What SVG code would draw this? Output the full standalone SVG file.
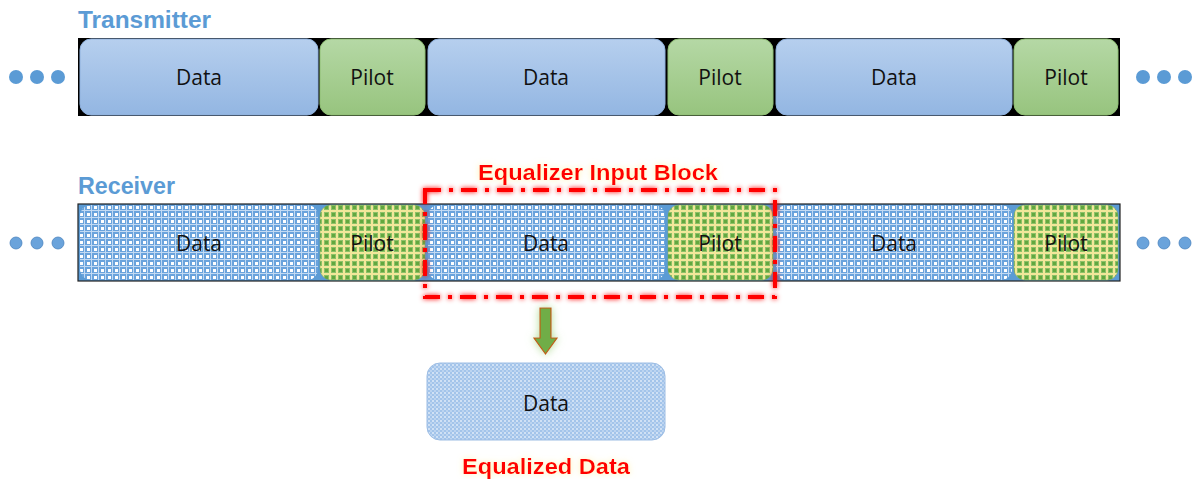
<svg xmlns="http://www.w3.org/2000/svg" width="1193" height="479" viewBox="0 0 1193 479">
<style>
.title{font-family:"Liberation Sans",Arial,sans-serif;font-weight:bold;font-size:23px;fill:#5b9bd5}
.lbl{font-family:"Open Sans","Liberation Sans",sans-serif;font-size:21px;fill:#111;text-anchor:middle;dominant-baseline:central}
.red{font-family:"Liberation Sans",Arial,sans-serif;font-weight:bold;font-size:22px;fill:#ff0000;text-anchor:middle}
.tdata{fill:url(#gData);stroke:#8fb1dd;stroke-width:1}
.tpilot{fill:url(#gPilot);stroke:#8fbf74;stroke-width:1}
.rdata{fill:url(#pData)}
.rpilot{fill:url(#pPilot);stroke:#7aa95a;stroke-width:0.5}
.dot{fill:#5b9bd5}
.rdot{fill:#6aa3db;stroke:#4a84bf;stroke-width:0.8}
</style>
<defs>
<linearGradient id="gData" x1="0" y1="0" x2="0" y2="1"><stop offset="0" stop-color="#b6cfee"/><stop offset="1" stop-color="#93b6e2"/></linearGradient>
<linearGradient id="gPilot" x1="0" y1="0" x2="0" y2="1"><stop offset="0" stop-color="#b5d8a5"/><stop offset="1" stop-color="#97c47e"/></linearGradient>
<pattern id="pData" width="7" height="7" patternUnits="userSpaceOnUse">
<rect width="7" height="7" fill="#6aa3dc"/>
<rect x="0" y="0" width="7" height="1" fill="#c2daf3"/>
<rect x="0" y="0" width="1" height="7" fill="#c2daf3"/>
<rect x="3" y="3" width="3" height="3" fill="#ffffff"/>
</pattern>
<pattern id="pPilot" width="7" height="7" patternUnits="userSpaceOnUse">
<rect width="7" height="7" fill="#8cc068"/>
<rect x="0" y="0" width="7" height="2" fill="#f2e79a"/>
<rect x="0" y="0" width="2" height="7" fill="#f2e79a"/>
<rect x="3" y="3" width="3" height="3" fill="#62a83e"/>
</pattern>
<pattern id="pEq" width="4" height="4" patternUnits="userSpaceOnUse">
<rect width="4" height="4" fill="#a3c4ea"/>
<rect x="0" y="0" width="2" height="2" fill="#d0e1f5"/>
<rect x="2" y="2" width="2" height="2" fill="#bcd4f0"/>
</pattern>
<filter id="glowY" x="-10%" y="-40%" width="120%" height="180%">
<feGaussianBlur in="SourceAlpha" stdDeviation="3" result="b"/>
<feFlood flood-color="#ffef9e" flood-opacity="0.8"/>
<feComposite operator="in" in2="b"/>
<feMerge><feMergeNode/><feMergeNode in="SourceGraphic"/></feMerge>
</filter>
<filter id="glowR" x="-5%" y="-10%" width="110%" height="120%">
<feGaussianBlur in="SourceGraphic" stdDeviation="2.5" result="b"/>
<feMerge><feMergeNode in="b"/><feMergeNode in="SourceGraphic"/></feMerge>
</filter>
<filter id="glowG" x="-80%" y="-30%" width="260%" height="160%">
<feGaussianBlur in="SourceAlpha" stdDeviation="4" result="b"/>
<feFlood flood-color="#a9d98c" flood-opacity="0.9"/>
<feComposite operator="in" in2="b"/>
<feMerge><feMergeNode/><feMergeNode in="SourceGraphic"/></feMerge>
</filter>
</defs>
<rect width="1193" height="479" fill="#ffffff"/>

<g id="transmitter">
<text class="title" x="78" y="28" textLength="133" lengthAdjust="spacingAndGlyphs">Transmitter</text>
<rect x="78" y="38" width="1042" height="78" fill="#000"/>
<g id="t-data1"><rect class="tdata" x="80" y="39" width="238" height="76" rx="11"/><text class="lbl" x="199" y="77">Data</text></g>
<g id="t-pilot1"><rect class="tpilot" x="320" y="39" width="105" height="76" rx="11"/><text class="lbl" x="372" y="77">Pilot</text></g>
<g id="t-data2"><rect class="tdata" x="428" y="39" width="237" height="76" rx="11"/><text class="lbl" x="546" y="77">Data</text></g>
<g id="t-pilot2"><rect class="tpilot" x="668" y="39" width="105" height="76" rx="11"/><text class="lbl" x="720" y="77">Pilot</text></g>
<g id="t-data3"><rect class="tdata" x="776" y="39" width="236" height="76" rx="11"/><text class="lbl" x="894" y="77">Data</text></g>
<g id="t-pilot3"><rect class="tpilot" x="1014" y="39" width="104" height="76" rx="11"/><text class="lbl" x="1066" y="77">Pilot</text></g>
<g id="t-dots-l"><circle class="dot" cx="16" cy="77" r="7"/><circle class="dot" cx="37" cy="77" r="7"/><circle class="dot" cx="58" cy="77" r="7"/></g>
<g id="t-dots-r"><circle class="dot" cx="1143" cy="77" r="7"/><circle class="dot" cx="1164" cy="77" r="7"/><circle class="dot" cx="1185" cy="77" r="7"/></g>
</g>

<g id="receiver">
<text class="title" x="78" y="194" textLength="97" lengthAdjust="spacingAndGlyphs">Receiver</text>
<rect x="78" y="204" width="1042" height="77" fill="#5b9bd5" stroke="#222" stroke-width="1.2"/>
<g id="r-data1"><rect class="rdata" x="80" y="205" width="238" height="75" rx="11"/><text class="lbl" x="199" y="243">Data</text></g>
<g id="r-pilot1"><rect class="rpilot" x="320" y="205" width="105" height="75" rx="11"/><text class="lbl" x="372" y="243">Pilot</text></g>
<g id="r-data2"><rect class="rdata" x="428" y="205" width="237" height="75" rx="11"/><text class="lbl" x="546" y="243">Data</text></g>
<g id="r-pilot2"><rect class="rpilot" x="668" y="205" width="105" height="75" rx="11"/><text class="lbl" x="720" y="243">Pilot</text></g>
<g id="r-data3"><rect class="rdata" x="776" y="205" width="236" height="75" rx="11"/><text class="lbl" x="894" y="243">Data</text></g>
<g id="r-pilot3"><rect class="rpilot" x="1014" y="205" width="104" height="75" rx="11"/><text class="lbl" x="1066" y="243">Pilot</text></g>
<g id="r-dots-l"><circle class="rdot" cx="16" cy="243" r="6"/><circle class="rdot" cx="37" cy="243" r="6"/><circle class="rdot" cx="58" cy="243" r="6"/></g>
<g id="r-dots-r"><circle class="rdot" cx="1143" cy="243" r="6"/><circle class="rdot" cx="1164" cy="243" r="6"/><circle class="rdot" cx="1185" cy="243" r="6"/></g>
</g>

<g id="equalizer-block">
<text class="red" x="598" y="180" filter="url(#glowY)" textLength="240" lengthAdjust="spacingAndGlyphs">Equalizer Input Block</text>
<rect x="425" y="190" width="350" height="107" fill="none" stroke="#ff0000" stroke-width="4" stroke-dasharray="16,8,4,8" filter="url(#glowR)"/>
</g>

<g id="connectors">
<path d="M540,308 H551 V338 H557 L545.5,354 L534,338 H540 Z" fill="#70ad47" stroke="#c55a11" stroke-width="1.2" filter="url(#glowG)"/>
</g>

<g id="equalized-data">
<rect x="427" y="363" width="238" height="77" rx="13" fill="url(#pEq)" stroke="#9dbde4" stroke-width="1"/>
<text class="lbl" x="546" y="403">Data</text>
<text class="red" x="546" y="474" filter="url(#glowY)" textLength="168" lengthAdjust="spacingAndGlyphs">Equalized Data</text>
</g>
</svg>
